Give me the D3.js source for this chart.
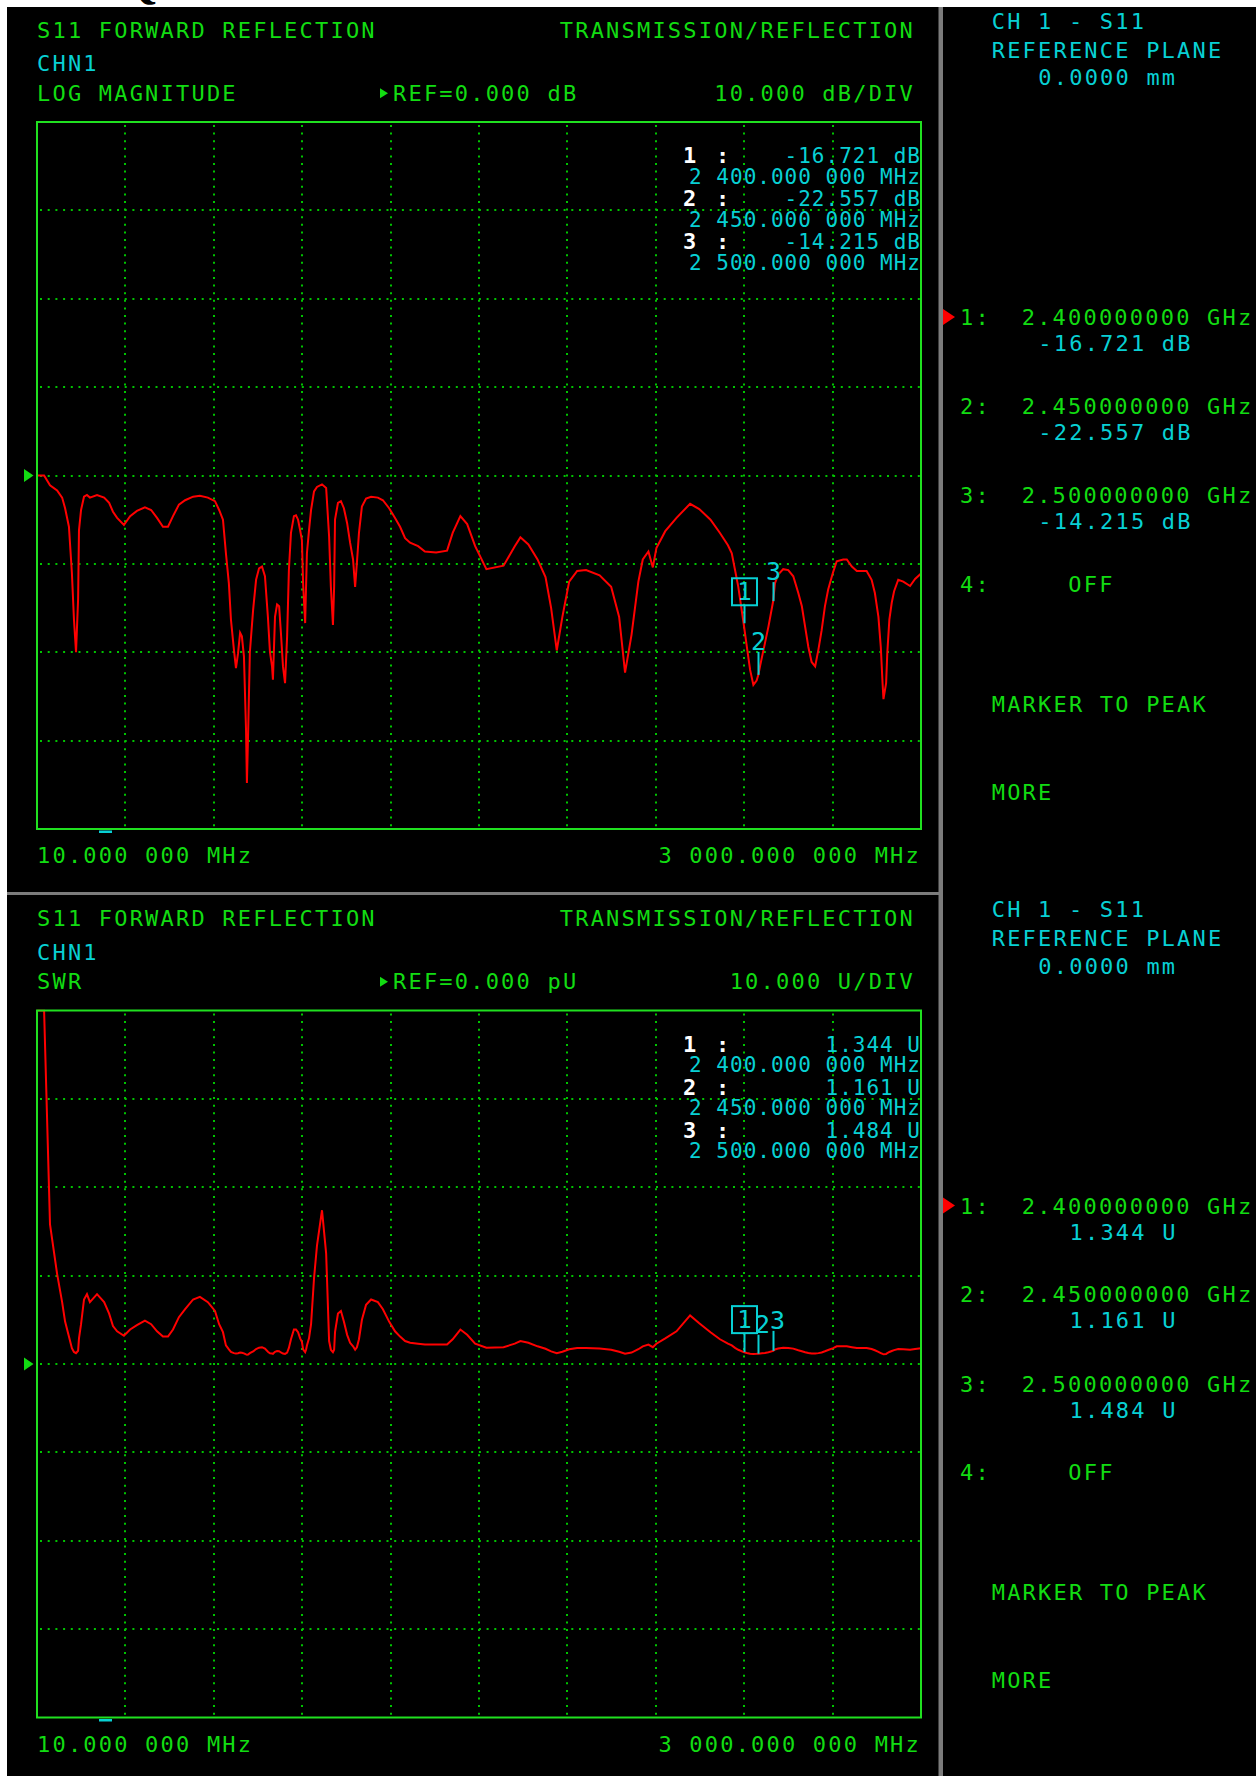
<!DOCTYPE html>
<html>
<head>
<meta charset="utf-8">
<script src="https://cdn.jsdelivr.net/npm/d3@7"></script>
<style>
body { margin: 0; background: #fff; }
svg { display: block; }
text { font-family: 'DejaVu Sans Mono', monospace; }
</style>
</head>
<body>
<svg id="screen" width="1256" height="1776"></svg>
<script>
'use strict';

// sweep points, MHz
var freqMHz = [
	10, 34, 54, 78, 95, 105, 118, 128, 135, 142,
	149, 152, 159, 169, 179, 189, 213, 237, 254, 267,
	281, 304, 325, 348, 375, 396, 416, 436, 453, 470,
	490, 511, 538, 561, 588, 612, 626, 639, 649, 659,
	666, 676, 683, 690, 697, 703, 710, 717, 720, 724,
	730, 741, 751, 761, 771, 781, 791, 798, 805, 808,
	815, 822, 829, 835, 842, 849, 856, 862, 869, 879,
	886, 893, 900, 906, 910, 917, 920, 923, 930, 937,
	947, 957, 974, 988, 998, 1004, 1011, 1015, 1018, 1028,
	1038, 1048, 1059, 1069, 1079, 1086, 1092, 1099, 1109, 1123,
	1140, 1163, 1180, 1201, 1221, 1238, 1255, 1272, 1299, 1322,
	1360, 1397, 1416, 1442, 1465, 1492, 1530, 1588, 1626, 1645,
	1672, 1703, 1730, 1749, 1768, 1787, 1810, 1837, 1867, 1913,
	1952, 1979, 1999, 2021, 2044, 2059, 2078, 2093, 2105, 2135,
	2173, 2219, 2250, 2288, 2320, 2347, 2360, 2371, 2382, 2400,
	2411, 2422, 2433, 2444, 2450, 2456, 2472, 2484, 2500, 2506,
	2517, 2534, 2551, 2568, 2585, 2597, 2608, 2619, 2630, 2642,
	2653, 2664, 2675, 2686, 2703, 2715, 2737, 2749, 2766, 2783,
	2816, 2833, 2844, 2856, 2864, 2870, 2873, 2882, 2886, 2893,
	2901, 2909, 2923, 2940, 2963, 2980, 3000
];

// S11 log magnitude, dB
var s11Db = [
	0, 0, -1.1, -1.7, -2.5, -3.7, -5.8, -11, -16.3, -20,
	-14, -6.2, -3.9, -2.4, -2.2, -2.5, -2.2, -2.5, -3.1, -4.1,
	-4.8, -5.6, -4.6, -4.0, -3.6, -3.9, -4.8, -5.8, -5.8, -4.6,
	-3.3, -2.8, -2.4, -2.3, -2.5, -2.9, -3.9, -5.0, -8.8, -12.2,
	-16.3, -19.7, -21.8, -20.1, -17.8, -18.2, -20.5, -28.8, -34.8, -29.3,
	-20, -15.2, -11.8, -10.5, -10.3, -11.4, -16, -20, -21.6, -23.1,
	-16, -14.6, -14.8, -17.8, -21.6, -23.5, -18.2, -10.7, -6.5, -4.6,
	-4.5, -5.0, -6.2, -7.3, -12.2, -16.7, -12.6, -8.8, -6.2, -3.9,
	-1.8, -1.3, -1.0, -1.4, -6.9, -12.6, -16.9, -12.6, -5.0, -3.1,
	-2.9, -3.7, -5.4, -7.6, -9.5, -12.6, -9.9, -6.5, -3.5, -2.6,
	-2.4, -2.5, -2.8, -3.7, -4.8, -5.8, -7.1, -7.6, -8.0, -8.6,
	-8.7, -8.5, -6.5, -4.6, -5.5, -8.0, -10.6, -10.2, -8.0, -7.0,
	-7.8, -9.5, -11.5, -15, -19.8, -16, -12, -10.8, -10.7, -11.3,
	-12.6, -16, -22.3, -18, -12, -9.5, -8.6, -10.4, -8.2, -6.3,
	-4.8, -3.2, -3.8, -5.0, -6.5, -7.9, -8.8, -10.7, -12.6, -16.72,
	-19.4, -22, -23.7, -23.2, -22.56, -21.5, -19, -17.1, -14.2, -12.2,
	-11.2, -10.6, -10.7, -11.4, -13.3, -14.8, -17.1, -19.4, -21.1, -21.6,
	-19.7, -17.5, -14.8, -12.9, -10.9, -9.7, -9.5, -9.5, -10.3, -10.8,
	-10.8, -11.8, -13.3, -16, -19.4, -23.5, -25.3, -23.5, -20.1, -16.3,
	-14.4, -13.1, -11.8, -12, -12.5, -11.7, -11.1
];

// SWR, U (off-scale at the start)
var swrU = [
	99, 99, 15.8, 10.2, 7.0, 4.8, 3.1, 1.79, 1.36, 1.22,
	1.5, 2.9, 4.5, 7.3, 7.9, 7.0, 7.9, 7.0, 5.7, 4.3,
	3.7, 3.2, 3.9, 4.4, 4.9, 4.5, 3.7, 3.1, 3.1, 3.9,
	5.3, 6.2, 7.3, 7.6, 7.0, 6.0, 4.5, 3.6, 2.1, 1.65,
	1.36, 1.23, 1.18, 1.22, 1.30, 1.28, 1.21, 1.08, 1.04, 1.07,
	1.22, 1.42, 1.69, 1.85, 1.90, 1.74, 1.38, 1.22, 1.18, 1.15,
	1.38, 1.46, 1.44, 1.30, 1.18, 1.14, 1.28, 1.82, 2.8, 3.9,
	3.9, 3.6, 2.9, 2.5, 1.65, 1.34, 1.61, 2.1, 2.9, 4.5,
	9.7, 13.4, 17.4, 12.5, 2.6, 1.61, 1.33, 1.61, 3.6, 5.7,
	6.0, 4.8, 3.3, 2.4, 2.0, 1.61, 1.9, 2.8, 5.0, 6.7,
	7.3, 7.0, 6.2, 4.8, 3.7, 3.1, 2.6, 2.4, 2.3, 2.2,
	2.2, 2.2, 2.8, 3.9, 3.3, 2.3, 1.84, 1.9, 2.3, 2.6,
	2.4, 2.0, 1.72, 1.43, 1.23, 1.38, 1.67, 1.81, 1.82, 1.75,
	1.61, 1.38, 1.17, 1.29, 1.67, 2.0, 2.2, 1.9, 2.3, 2.9,
	3.7, 5.5, 4.6, 3.6, 2.8, 2.3, 2.1, 1.82, 1.61, 1.34,
	1.24, 1.17, 1.14, 1.15, 1.16, 1.18, 1.25, 1.33, 1.48, 1.65,
	1.76, 1.84, 1.82, 1.74, 1.55, 1.44, 1.33, 1.24, 1.19, 1.18,
	1.23, 1.31, 1.44, 1.58, 1.80, 2.0, 2.0, 2.0, 1.9, 1.81,
	1.81, 1.69, 1.55, 1.38, 1.24, 1.14, 1.11, 1.14, 1.22, 1.36,
	1.47, 1.57, 1.69, 1.67, 1.62, 1.70, 1.77
];

var markerMHz = [2400, 2450, 2500];
var markerDb = [-16.721, -22.557, -14.215];
var markerSwr = [1.344, 1.161, 1.484];

var sweepStart = 10, sweepStop = 3000;
var refValue = 0, perDiv = 10, xDivs = 10, yDivs = 8;

var GREEN = '#12dc12', CYAN = '#08d0d4', RED = '#ff0000',
	DOTS = '#00c400', FRAME = '#20e020', GRAY = '#7c7c7c';

// plain hyphen for negative readouts, like the instrument
var fmt = d3.formatLocale({ decimal: '.', thousands: ',', grouping: [3], currency: ['', ''], minus: '-' }).format;

var svg = d3.select('#screen');

// stray glyph from the page above the screenshot
svg.append('text')
	.attr('x', 120).attr('y', -3)
	.style('font-family', 'Liberation Serif')
	.style('font-weight', 'bold')
	.style('font-size', '48px')
	.attr('fill', '#000')
	.text('Q');

svg.append('rect')
	.attr('x', 7).attr('y', 7)
	.attr('width', 1249).attr('height', 1769)
	.attr('fill', '#000');

function fmtMHz(f) {
	var s = fmt(',.6f')(f).replace(/,/g, ' ');
	return s.slice(0, -3) + ' ' + s.slice(-3) + ' MHz';
}
function fmtGHz(f) { return fmt('.9f')(f / 1000) + ' GHz'; }

function txt(g, x, y, s, color, opt) {
	opt = opt || {};
	return g.append('text')
		.attr('x', x).attr('y', y)
		.attr('fill', color)
		.attr('text-anchor', opt.anchor || 'start')
		.style('font-size', (opt.size || 22) + 'px')
		.style('letter-spacing', (opt.ls == null ? 2.2 : opt.ls) + 'px')
		.style('font-weight', opt.bold ? 'bold' : 'normal')
		.text(s);
}

var panels = [
	{ offset: 0, title: 'LOG MAGNITUDE', refText: 'REF=0.000 dB', divText: '10.000 dB/DIV',
	  values: s11Db, markerVals: markerDb, fmt: function (v) { return fmt('.3f')(v) + ' dB'; },
	  sideX: 1038.3, tick: [18, 23, 19], lblDx: [0, 0, 0], clipId: 'clipA' },
	{ offset: 888.5, title: 'SWR', refText: 'REF=0.000 pU', divText: '10.000 U/DIV',
	  values: swrU, markerVals: markerSwr, fmt: function (v) { return fmt('.3f')(v) + ' U'; },
	  sideX: 1069.5, tick: [19, 19, 20], lblDx: [0, 4, 4], clipId: 'clipB' }
];

var plotLeft = 37, plotW = 884, plotH = 707, plotTop0 = 122;

panels.forEach(function (p) {
	var o = p.offset;
	var g = svg.append('g');
	var top = plotTop0 + o;

	var x = d3.scaleLinear().domain([sweepStart, sweepStop]).range([plotLeft, plotLeft + plotW]);
	var y = d3.scaleLinear()
		.domain([refValue + perDiv * yDivs / 2, refValue - perDiv * yDivs / 2])
		.range([top, top + plotH])
		.clamp(true);

	// header lines
	txt(g, 37, 37.5 + o, 'S11 FORWARD REFLECTION', GREEN);
	txt(g, 915, 37.5 + o, 'TRANSMISSION/REFLECTION', GREEN, { anchor: 'end' });
	txt(g, 37, 71 + o, 'CHN1', CYAN);
	txt(g, 37, 100.5 + o, p.title, GREEN);
	g.append('path')
		.attr('d', 'M380,' + (88.3 + o) + 'L388,' + (93.3 + o) + 'L380,' + (98.3 + o) + 'Z')
		.attr('fill', GREEN);
	txt(g, 393, 100.5 + o, p.refText, GREEN);
	txt(g, 915, 100.5 + o, p.divText, GREEN, { anchor: 'end' });

	// graticule
	var vx = d3.range(1, xDivs).map(function (i) { return sweepStart + i * (sweepStop - sweepStart) / xDivs; });
	var hy = d3.range(1, yDivs).map(function (j) { return y.domain()[0] - j * perDiv; });

	g.selectAll('line.vgrid').data(vx).enter().append('line')
		.attr('class', 'vgrid')
		.attr('x1', function (d) { return Math.round(x(d)); })
		.attr('x2', function (d) { return Math.round(x(d)); })
		.attr('y1', top + 3).attr('y2', top + plotH)
		.attr('stroke', DOTS).attr('stroke-width', 2)
		.attr('stroke-dasharray', '2 5.6');

	g.selectAll('line.hgrid').data(hy).enter().append('line')
		.attr('class', 'hgrid')
		.attr('x1', plotLeft + 3).attr('x2', plotLeft + plotW)
		.attr('y1', function (d) { return Math.round(y(d)); })
		.attr('y2', function (d) { return Math.round(y(d)); })
		.attr('stroke', DOTS).attr('stroke-width', 2)
		.attr('stroke-dasharray', '2 5.7');

	// marker readout inside the graticule
	markerMHz.forEach(function (f, i) {
		var by = 163 + o + i * 43.2;
		txt(g, 683, by, String(i + 1), '#ffffff', { bold: true, ls: 0 });
		txt(g, 716, by, ':', '#ffffff', { bold: true, ls: 0 });
		txt(g, 921, by, p.fmt(p.markerVals[i]), CYAN, { anchor: 'end', ls: 1, size: 21 });
		txt(g, 921, by + 20.5, fmtMHz(f), CYAN, { anchor: 'end', ls: 1, size: 21 });
	});

	// trace
	g.append('clipPath').attr('id', p.clipId)
		.append('rect')
		.attr('x', plotLeft).attr('y', top - 1)
		.attr('width', plotW).attr('height', plotH + 2);

	var line = d3.line()
		.x(function (d) { return x(d[0]); })
		.y(function (d) { return y(d[1]); });

	g.append('path')
		.datum(d3.zip(freqMHz, p.values))
		.attr('clip-path', 'url(#' + p.clipId + ')')
		.attr('d', line)
		.attr('fill', 'none')
		.attr('stroke', RED)
		.attr('stroke-width', 2)
		.attr('stroke-linejoin', 'miter');

	// markers on the trace
	markerMHz.forEach(function (f, i) {
		var mx = Math.round(x(f)) + 0.5, my = y(p.markerVals[i]);
		var tTop = my - p.tick[i];
		g.append('line')
			.attr('x1', mx).attr('x2', mx)
			.attr('y1', tTop).attr('y2', my)
			.attr('stroke', CYAN).attr('stroke-width', 2);
		if (i === 0) {
			g.append('rect')
				.attr('x', mx - 12.5).attr('y', tTop - 27)
				.attr('width', 25).attr('height', 27)
				.attr('fill', 'none')
				.attr('stroke', CYAN).attr('stroke-width', 2);
			txt(g, mx, tTop - 5, '1', CYAN, { anchor: 'middle', size: 24, ls: 0 });
		} else {
			txt(g, mx + p.lblDx[i], tTop - 2, String(i + 1), CYAN, { anchor: 'middle', size: 25, ls: 0 });
		}
	});

	// frame and reference arrow
	g.append('rect')
		.attr('x', plotLeft).attr('y', top)
		.attr('width', plotW).attr('height', plotH)
		.attr('fill', 'none')
		.attr('stroke', FRAME).attr('stroke-width', 2);

	var ry = y(refValue);
	g.append('path')
		.attr('d', 'M24,' + (ry - 6.5) + 'L33.5,' + ry + 'L24,' + (ry + 6.5) + 'Z')
		.attr('fill', GREEN);

	g.append('rect')
		.attr('x', 99).attr('y', top + plotH + 1.5)
		.attr('width', 13).attr('height', 2.5)
		.attr('fill', CYAN);

	// sweep limits
	txt(g, 37, 863 + o, fmtMHz(sweepStart), GREEN);
	txt(g, 921, 863 + o, fmtMHz(sweepStop), GREEN, { anchor: 'end' });

	// side menu
	txt(g, 991.7, 28.5 + o, 'CH 1 - S11', CYAN);
	txt(g, 991.7, 57.5 + o, 'REFERENCE PLANE', CYAN);
	txt(g, 1038.3, 85 + o, '0.0000 mm', CYAN);

	var rowY = [325, 413.5, 503];
	markerMHz.forEach(function (f, i) {
		var by = rowY[i] + o;
		if (i === 0) {
			g.append('path')
				.attr('d', 'M943,' + (by - 16) + 'L955,' + (by - 8) + 'L943,' + by + 'Z')
				.attr('fill', RED);
		}
		txt(g, 960, by, (i + 1) + ':', GREEN);
		txt(g, 1021.7, by, fmtGHz(f), GREEN);
		txt(g, p.sideX, by + 26, p.fmt(p.markerVals[i]), CYAN);
	});
	txt(g, 960, 591.5 + o, '4:', GREEN);
	txt(g, 1068.3, 591.5 + o, 'OFF', GREEN);
	txt(g, 991.7, 711.5 + o, 'MARKER TO PEAK', GREEN);
	txt(g, 991.7, 799.5 + o, 'MORE', GREEN);
});

// screen dividers
svg.append('rect')
	.attr('x', 7).attr('y', 892).attr('width', 932).attr('height', 3)
	.attr('fill', GRAY);
svg.append('rect')
	.attr('x', 938.5).attr('y', 7).attr('width', 4.5).attr('height', 1769)
	.attr('fill', GRAY);
</script>
</body>
</html>
